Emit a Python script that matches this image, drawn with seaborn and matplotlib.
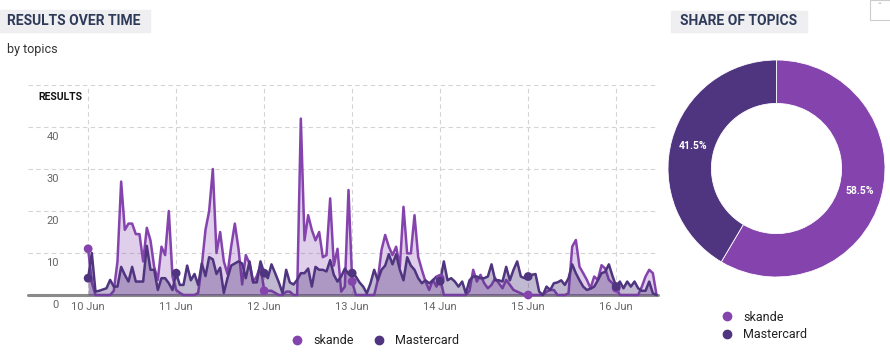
import pandas as pd
import numpy as np
import seaborn as sns
import matplotlib.pyplot as plt
import matplotlib.dates as mdates
import matplotlib.transforms as mtransforms
from matplotlib.lines import Line2D
from matplotlib.patches import Rectangle

sns.set_theme(style="white")
plt.rcParams["font.family"] = ["Roboto", "DejaVu Sans"]

# 数据
topics = ["skande", "Mastercard"]
colors = ["#8543ae", "#4f347f"]
start = "2023-06-10 00:00"

skande = [11, 3, 0, 0, 0, 0, 0, 1, 8, 27, 15.5, 17, 17, 14.5, 14.5, 8, 16, 13, 6.7, 3.6, 11.5, 9.5, 20, 4.4,
          1.2, 0.5, 0, 0, 0, 0, 0.5, 7, 15.5, 20, 30, 10, 15, 8, 5, 11.5, 17, 11, 2.5, 9.5, 7.5, 3, 4.5, 7,
          1, 1, 1, 0.5, 0, 0, 0.8, 0.8, 0, 0, 42, 13, 19, 15.5, 13, 15, 9, 9.5, 23, 7, 11, 0.8, 2, 25,
          3.2, 0, 0, 0, 0, 0, 0, 3.6, 10.7, 14.3, 11.5, 9.5, 11.5, 6.7, 21, 9.9, 9.9, 19, 9.1, 6, 3.2, 1.2, 3.6, 2,
          4, 0, 0, 0, 0, 0, 0, 0, 1, 6, 3.2, 4.8, 2.8, 1.6, 2.4, 4, 2.8, 1.6, 3.6, 2.4, 1.2, 0.8, 0.4, 0,
          0, 0, 0, 0, 0, 0.8, 1.2, 1.2, 0, 0, 0, 0.4, 11.5, 13.1, 6.7, 5.2, 3.6, 1.6, 4.4, 3.6, 7.1, 6.3, 3.6, 2.8,
          1.6, 0, 0, 0, 0, 0, 0, 2, 4.4, 6, 5.2, 0]
mastercard = [4, 10, 0.8, 1, 1.3, 1.6, 3.6, 2, 2, 6.7, 4.8, 3.2, 6.7, 3.2, 3.2, 3.2, 11.7, 6, 6, 1.2, 4, 4, 2.8, 1.2,
              5.2, 2.4, 2.4, 7, 3.5, 5, 2.4, 7.5, 4.5, 9, 8.5, 5, 6.5, 0.5, 4, 7, 7.5, 8, 7.5, 4, 8, 3, 3, 8,
              5.2, 4, 7.3, 5.2, 3, 0.5, 6, 3, 2.5, 3.6, 5.2, 5.2, 6.3, 2, 6.7, 6, 6, 5.6, 8.3, 4.8, 3.2, 4.4, 6.3, 5,
              5.2, 4.4, 3, 2, 0.4, 2.8, 6, 3.5, 6, 7, 9.7, 7.3, 9.7, 6, 3.5, 9, 7, 6, 4, 2.8, 3.5, 2.8, 3.5, 4.4,
              3.3, 8, 3.5, 4, 3.2, 2, 3.2, 0.4, 3.5, 4.4, 4.4, 4, 4, 4.4, 7.3, 3.5, 3.5, 3.2, 6.7, 3.5, 6, 8, 4.4, 4,
              4.4, 4.8, 5, 0.8, 0, 2, 1.2, 2.8, 3, 3.5, 2.4, 4, 7.3, 5.2, 3.5, 2, 1.2, 1.5, 2, 3.5, 5.2, 5.5, 7.3, 4.5,
              2, 3.2, 1.6, 3.2, 2, 3.2, 1.6, 1, 1, 3.2, 0.4, 0]
marker_hours = {"skande": [0, 48, 72, 96, 120, 144],
                "Mastercard": [0, 24, 48, 72, 96, 120, 144]}
share = [58.5, 41.5]
y_ticks = [0, 10, 20, 30, 40]

times = pd.date_range(start, periods=len(skande), freq="h")
df = pd.DataFrame({
    "time": np.concatenate([times, times]),
    "topic": ["skande"] * len(skande) + ["Mastercard"] * len(mastercard),
    "results": skande + mastercard,
})
palette = dict(zip(topics, colors))
fill_alpha = {"skande": 0.25, "Mastercard": 0.35}

W, H = 890, 354
fig = plt.figure(figsize=(W / 100, H / 100), dpi=100)

# 折线面积图
ax = fig.add_axes([28 / W, 59 / H, 630 / W, 210 / H])
for i, t in enumerate(topics):
    d = df[df["topic"] == t]
    ax.fill_between(d["time"], 0, d["results"], color=palette[t], alpha=fill_alpha[t],
                    lw=0, zorder=2 + i * 2)
    sns.lineplot(data=d, x="time", y="results", color=palette[t], linewidth=1.8,
                 estimator=None, ax=ax, zorder=3 + i * 2, clip_on=False)
    m = d.iloc[marker_hours[t]]
    sns.scatterplot(data=m, x="time", y="results", color=palette[t], s=40,
                    edgecolor="none", ax=ax, zorder=7, clip_on=False)

ax.axhline(0, color="#8a8a8a", lw=2.2, zorder=1.5, clip_on=False)
ax.set_ylim(0, 50)
ax.set_xlim(times[0] - pd.Timedelta(hours=16.4), times[0] + pd.Timedelta(hours=155.4))
ax.set_yticks(y_ticks + [50])
ax.set_yticklabels([])
ax.xaxis.set_major_locator(mdates.DayLocator())
ax.xaxis.set_major_formatter(mdates.DateFormatter("%d %b"))
ax.tick_params(axis="both", length=0)
ax.tick_params(axis="x", labelsize=8, labelcolor="#666666", pad=5)
ax.grid(True, ls=(0, (4, 3)), color="#d4d4d4", lw=0.8)
ax.set_axisbelow(True)
for s in ax.spines.values():
    s.set_visible(False)
ax.set_xlabel("")
ax.set_ylabel("")

trans = mtransforms.blended_transform_factory(fig.transFigure, ax.transData) + \
    mtransforms.ScaledTranslation(0, -0.10, fig.dpi_scale_trans)
for v in y_ticks:
    ax.text(59 / W, v, str(v), transform=trans, ha="right", va="center",
            fontsize=8, color="#666666")
fig.text(38 / W, 1 - 97 / H, "RESULTS", ha="left", va="center", fontsize=7.5,
         fontweight="bold", color="#111111")

# 图例
handles = [Line2D([], [], marker="o", ls="none", color=c, markersize=6) for c in colors]
fig.legend(handles, topics, loc="center", bbox_to_anchor=(372 / W, 1 - 341 / H), ncol=2,
           frameon=False, fontsize=9, handletextpad=0.3, columnspacing=1.0,
           labelcolor="#222222")

# 环形图
ax2 = fig.add_axes([668 / W, 77 / H, 217 / W, 217 / H])
wedges, texts, autotexts = ax2.pie(share, colors=colors, startangle=90, counterclock=False,
                                   autopct="%.1f%%", pctdistance=0.8,
                                   wedgeprops=dict(width=0.4, edgecolor="white", linewidth=0.6),
                                   textprops=dict(color="white", fontsize=7.5, fontweight="bold"))
ax2.set_xlim(-1, 1)
ax2.set_ylim(-1, 1)
ax2.set_aspect("equal")

fig.legend(handles, topics, loc="center left", bbox_to_anchor=(703 / W, 1 - 326 / H), ncol=1,
           frameon=False, fontsize=9, handletextpad=0.3, labelspacing=0.35,
           labelcolor="#222222")

# 标题
fig.patches.append(Rectangle((0, 1 - 32 / H), 150 / W, 22 / H, transform=fig.transFigure,
                             color="#efeff1", zorder=0))
fig.text(7 / W, 1 - 21 / H, "RESULTS OVER TIME", ha="left", va="center", fontsize=10,
         fontweight="bold", color="#2e3a59")
fig.text(7 / W, 1 - 50 / H, "by topics", ha="left", va="center", fontsize=9, color="#333333")

fig.patches.append(Rectangle((671 / W, 1 - 32 / H), 136 / W, 21 / H, transform=fig.transFigure,
                             color="#efeff1", zorder=0))
fig.text(739 / W, 1 - 21 / H, "SHARE OF TOPICS", ha="center", va="center", fontsize=10,
         fontweight="bold", color="#2e3a59")

fig.patches.append(Rectangle((870 / W, 1 - 20 / H), 22 / W, 20 / H, transform=fig.transFigure,
                             facecolor="white", edgecolor="#cccccc", lw=0.8))
fig.text(880 / W, 1 - 5 / H, "••", ha="center", va="center", fontsize=5, color="#c0c0c0")

fig.savefig("out.png", dpi=100)
